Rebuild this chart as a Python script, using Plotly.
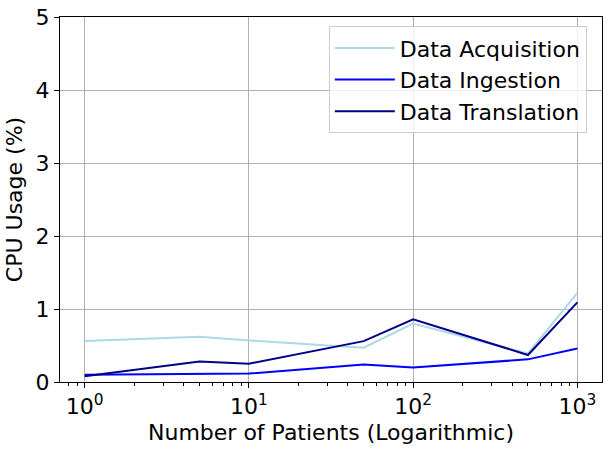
import plotly.graph_objects as go

patients = [1, 5, 10, 50, 100, 500, 1000]
acquisition = [0.56, 0.62, 0.57, 0.47, 0.80, 0.39, 1.22]
ingestion = [0.10, 0.105, 0.115, 0.24, 0.20, 0.31, 0.46]
translation = [0.08, 0.28, 0.25, 0.56, 0.86, 0.37, 1.09]

major_ticks = [1, 10, 100, 1000]
major_text = ['10<sup>0</sup>', '10<sup>1</sup>', '10<sup>2</sup>', '10<sup>3</sup>']
minor_ticks = [m * 10 ** e for e in range(-1, 4) for m in range(2, 10)]

FS = 22

fig = go.Figure()
fig.add_trace(go.Scatter(x=patients, y=acquisition, mode='lines', name='Data Acquisition',
                         line=dict(color='#add8e6', width=2)))
fig.add_trace(go.Scatter(x=patients, y=ingestion, mode='lines', name='Data Ingestion',
                         line=dict(color='#0000ff', width=2)))
fig.add_trace(go.Scatter(x=patients, y=translation, mode='lines', name='Data Translation',
                         line=dict(color='#00008b', width=2)))

fig.update_layout(
    width=611, height=452,
    margin=dict(l=60, r=9, t=17, b=70),
    plot_bgcolor='white', paper_bgcolor='white',
    font=dict(family='DejaVu Sans', size=FS, color='black'),
    legend=dict(x=0.972, y=0.975, xanchor='right', yanchor='top', itemwidth=60,
                bordercolor='#cccccc', borderwidth=1, bgcolor='rgba(255,255,255,0.8)',
                font=dict(size=FS)),
)
fig.update_xaxes(type='log', range=[-0.15, 3.15], automargin=False,
                 tickvals=major_ticks, ticktext=major_text, tickfont=dict(size=FS),
                 ticks='outside', ticklen=5, tickcolor='black',
                 showline=True, linecolor='black', linewidth=1, mirror=True,
                 showgrid=True, gridcolor='#b0b0b0', gridwidth=1,
                 minor=dict(tickvals=minor_ticks, ticks='outside', ticklen=3,
                            tickcolor='black', showgrid=False),
                 title=dict(text='Number of Patients (Logarithmic)', font=dict(size=FS), standoff=6))
fig.update_yaxes(range=[0, 5], dtick=1, automargin=False, tickfont=dict(size=FS),
                 ticks='outside', ticklen=5, tickcolor='black',
                 showline=True, linecolor='black', linewidth=1, mirror=True,
                 showgrid=True, gridcolor='#b0b0b0', gridwidth=1, zeroline=False,
                 title=dict(text='CPU Usage (%)', font=dict(size=FS), standoff=6))

# page body has a default 8px margin; drop it so the figure sits at the corner
fig.write_html('out.html', config={'displayModeBar': False},
               post_script="document.body.style.margin='0px';")
